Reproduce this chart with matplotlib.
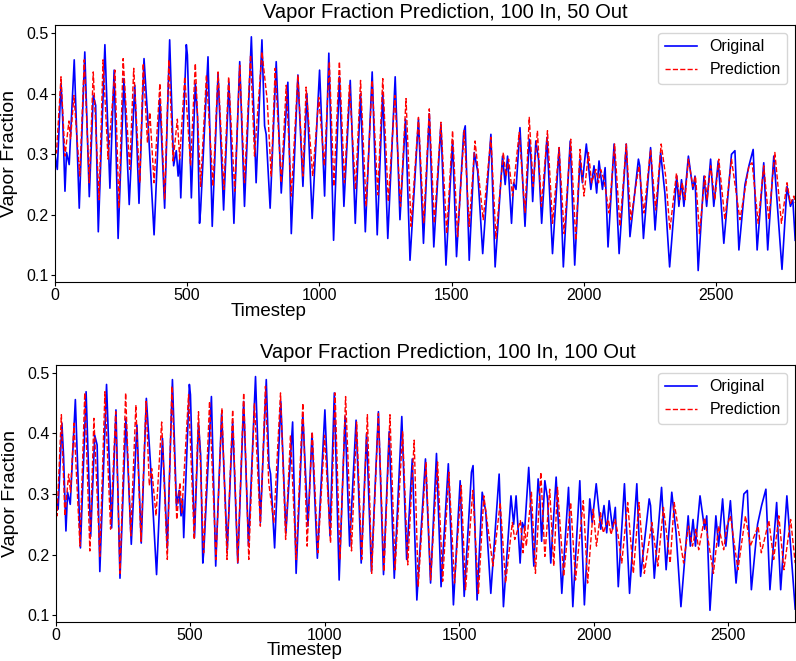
import matplotlib
matplotlib.use("Agg")
import matplotlib.pyplot as plt
import numpy as np

plt.rcParams['font.family'] = ['Liberation Sans', 'DejaVu Sans']

# original vapor fraction (turning points)
orig_t = [0, 9, 23, 29, 38, 44, 54, 73, 92, 113, 130, 145, 154, 164, 189, 208, 224, 239, 261, 281,
          302, 318, 337, 352, 375, 397, 415, 434, 449, 459, 466, 472, 476, 497, 501, 516, 531, 539, 547, 551,
          579, 595, 617, 638, 658, 677, 699, 717, 743, 761, 783, 793, 799, 814, 837, 856, 881, 894, 919, 938,
          953, 973, 1001, 1020, 1036, 1054, 1076, 1093, 1117, 1136, 1156, 1174, 1200, 1219, 1240, 1259, 1287, 1305, 1326, 1343,
          1375, 1394, 1416, 1433, 1460, 1479, 1504, 1519, 1546, 1552, 1567, 1586, 1599, 1618, 1649, 1665, 1693, 1703, 1712, 1727,
          1735, 1744, 1759, 1778, 1794, 1800, 1807, 1819, 1829, 1841, 1861, 1882, 1907, 1923, 1949, 1966, 1986, 1995, 2010, 2027,
          2039, 2049, 2058, 2071, 2081, 2092, 2115, 2134, 2161, 2175, 2207, 2212, 2226, 2253, 2270, 2291, 2307, 2325, 2352, 2360,
          2370, 2379, 2396, 2413, 2421, 2433, 2455, 2465, 2480, 2492, 2509, 2530, 2559, 2572, 2587, 2610, 2625, 2641, 2656, 2681,
          2696, 2719, 2738, 2750, 2769, 2782, 2791, 2800]
orig_v = [0.300, 0.275, 0.417, 0.364, 0.239, 0.303, 0.283, 0.456, 0.211, 0.469, 0.230, 0.397, 0.381, 0.172, 0.481, 0.244, 0.439, 0.161, 0.425, 0.217,
          0.414, 0.219, 0.458, 0.353, 0.167, 0.392, 0.211, 0.489, 0.281, 0.306, 0.264, 0.292, 0.228, 0.481, 0.464, 0.228, 0.417, 0.364, 0.186, 0.208,
          0.461, 0.181, 0.433, 0.208, 0.419, 0.186, 0.453, 0.214, 0.494, 0.253, 0.489, 0.347, 0.333, 0.211, 0.453, 0.236, 0.419, 0.169, 0.431, 0.247,
          0.400, 0.194, 0.439, 0.231, 0.467, 0.158, 0.428, 0.214, 0.422, 0.186, 0.400, 0.172, 0.436, 0.167, 0.403, 0.161, 0.428, 0.192, 0.358, 0.125,
          0.358, 0.153, 0.367, 0.147, 0.350, 0.117, 0.322, 0.131, 0.336, 0.347, 0.125, 0.303, 0.272, 0.136, 0.333, 0.114, 0.297, 0.250, 0.297, 0.186,
          0.253, 0.242, 0.344, 0.181, 0.325, 0.297, 0.222, 0.322, 0.292, 0.186, 0.328, 0.136, 0.311, 0.114, 0.322, 0.117, 0.292, 0.253, 0.317, 0.242,
          0.281, 0.236, 0.289, 0.242, 0.278, 0.147, 0.317, 0.136, 0.317, 0.164, 0.292, 0.281, 0.161, 0.311, 0.175, 0.303, 0.236, 0.114, 0.264, 0.214,
          0.258, 0.214, 0.297, 0.242, 0.264, 0.108, 0.264, 0.214, 0.292, 0.214, 0.289, 0.153, 0.300, 0.306, 0.142, 0.250, 0.281, 0.308, 0.142, 0.286,
          0.142, 0.297, 0.181, 0.110, 0.247, 0.214, 0.225, 0.158]

# prediction, 100 in / 50 out
p50_t = [0, 6, 23, 38, 53, 59, 72, 94, 111, 130, 145, 167, 182, 201, 227, 242, 258, 283, 298, 321,
         334, 350, 359, 375, 397, 415, 431, 447, 463, 472, 491, 513, 531, 551, 573, 598, 617, 639, 657, 680,
         699, 717, 740, 755, 783, 803, 818, 833, 856, 875, 894, 919, 938, 950, 975, 998, 1019, 1038, 1055, 1076,
         1095, 1114, 1137, 1156, 1177, 1200, 1221, 1240, 1261, 1286, 1307, 1328, 1347, 1375, 1395, 1416, 1435, 1460, 1482, 1504,
         1523, 1548, 1567, 1589, 1620, 1649, 1668, 1696, 1706, 1716, 1731, 1756, 1778, 1794, 1809, 1825, 1840, 1863, 1882, 1907,
         1926, 1951, 1970, 1986, 2001, 2018, 2030, 2046, 2056, 2064, 2077, 2096, 2117, 2137, 2161, 2178, 2209, 2228, 2253, 2272,
         2293, 2310, 2326, 2351, 2363, 2373, 2383, 2396, 2413, 2423, 2438, 2458, 2467, 2480, 2496, 2511, 2534, 2559, 2591, 2625,
         2637, 2660, 2681, 2700, 2723, 2748, 2769, 2782, 2795, 2800]
p50_v = [0.300, 0.303, 0.428, 0.297, 0.355, 0.325, 0.397, 0.264, 0.456, 0.253, 0.436, 0.225, 0.456, 0.292, 0.439, 0.211, 0.458, 0.275, 0.442, 0.253,
         0.450, 0.319, 0.369, 0.253, 0.417, 0.225, 0.456, 0.289, 0.358, 0.292, 0.428, 0.281, 0.450, 0.247, 0.431, 0.247, 0.436, 0.242, 0.428, 0.239,
         0.447, 0.253, 0.464, 0.297, 0.469, 0.389, 0.264, 0.442, 0.253, 0.414, 0.231, 0.431, 0.264, 0.411, 0.264, 0.394, 0.281, 0.453, 0.247, 0.453,
         0.253, 0.414, 0.242, 0.422, 0.214, 0.422, 0.233, 0.425, 0.222, 0.397, 0.214, 0.392, 0.181, 0.361, 0.186, 0.375, 0.186, 0.353, 0.169, 0.339,
         0.164, 0.339, 0.181, 0.322, 0.192, 0.328, 0.161, 0.303, 0.264, 0.292, 0.231, 0.336, 0.203, 0.361, 0.247, 0.339, 0.214, 0.339, 0.186, 0.311,
         0.169, 0.325, 0.158, 0.308, 0.231, 0.303, 0.253, 0.275, 0.253, 0.275, 0.258, 0.203, 0.317, 0.181, 0.317, 0.192, 0.281, 0.203, 0.308, 0.208,
         0.317, 0.264, 0.175, 0.269, 0.225, 0.253, 0.225, 0.292, 0.247, 0.264, 0.169, 0.264, 0.225, 0.281, 0.225, 0.292, 0.192, 0.292, 0.192, 0.281,
         0.286, 0.186, 0.281, 0.192, 0.303, 0.186, 0.253, 0.219, 0.231, 0.220]

# prediction, 100 in / 100 out
p100_t = [0, 5, 21, 34, 48, 55, 68, 90, 108, 127, 142, 164, 183, 204, 223, 239, 260, 279, 298, 317,
          336, 348, 357, 373, 394, 415, 432, 450, 462, 469, 494, 515, 531, 550, 572, 596, 618, 637, 658, 677,
          699, 718, 739, 761, 780, 792, 811, 836, 855, 873, 894, 919, 935, 954, 975, 1000, 1022, 1039, 1057, 1078,
          1100, 1119, 1138, 1159, 1175, 1200, 1221, 1243, 1262, 1290, 1309, 1333, 1348, 1377, 1394, 1420, 1439, 1462, 1483, 1508,
          1524, 1551, 1572, 1592, 1626, 1653, 1673, 1698, 1707, 1728, 1738, 1744, 1750, 1769, 1784, 1804, 1819, 1837, 1852, 1866,
          1889, 1915, 1933, 1962, 1978, 1999, 2011, 2026, 2036, 2055, 2065, 2080, 2090, 2105, 2127, 2148, 2169, 2189, 2217, 2239,
          2260, 2285, 2300, 2335, 2353, 2368, 2381, 2391, 2413, 2446, 2465, 2484, 2496, 2509, 2537, 2565, 2583, 2612, 2624, 2652,
          2670, 2689, 2708, 2733, 2750]
p100_v = [0.280, 0.264, 0.431, 0.264, 0.333, 0.303, 0.417, 0.214, 0.467, 0.206, 0.425, 0.197, 0.469, 0.242, 0.436, 0.169, 0.467, 0.231, 0.447, 0.222,
          0.453, 0.314, 0.342, 0.264, 0.419, 0.192, 0.478, 0.258, 0.319, 0.269, 0.464, 0.225, 0.436, 0.203, 0.453, 0.192, 0.442, 0.192, 0.439, 0.186,
          0.467, 0.192, 0.450, 0.247, 0.478, 0.319, 0.253, 0.467, 0.225, 0.397, 0.192, 0.450, 0.214, 0.403, 0.203, 0.397, 0.219, 0.467, 0.192, 0.461,
          0.206, 0.419, 0.192, 0.431, 0.169, 0.433, 0.172, 0.431, 0.175, 0.403, 0.183, 0.389, 0.147, 0.353, 0.158, 0.353, 0.156, 0.336, 0.153, 0.314,
          0.142, 0.306, 0.136, 0.297, 0.181, 0.286, 0.153, 0.253, 0.225, 0.256, 0.203, 0.247, 0.214, 0.303, 0.169, 0.336, 0.197, 0.308, 0.181, 0.311,
          0.164, 0.286, 0.158, 0.289, 0.153, 0.275, 0.214, 0.269, 0.236, 0.258, 0.233, 0.258, 0.236, 0.186, 0.286, 0.169, 0.286, 0.169, 0.253, 0.181,
          0.278, 0.186, 0.286, 0.186, 0.247, 0.214, 0.242, 0.208, 0.261, 0.169, 0.247, 0.208, 0.247, 0.264, 0.175, 0.264, 0.214, 0.247, 0.203, 0.256,
          0.192, 0.264, 0.175, 0.258, 0.186]

titles = ["Vapor Fraction Prediction, 100 In, 50 Out",
          "Vapor Fraction Prediction, 100 In, 100 Out"]

orig_t = np.array(orig_t)
orig_v = np.array(orig_v)

fig = plt.figure(figsize=(7.96, 6.61), dpi=100)
ax1 = fig.add_axes([0.069, 0.573, 0.930, 0.389])
ax2 = fig.add_axes([0.070, 0.059, 0.929, 0.389])

keep = orig_t <= 2750
panels = [(ax1, orig_t, orig_v, p50_t, p50_v, 2800, 0.288, 0.527),
          (ax2, orig_t[keep], orig_v[keep], p100_t, p100_v, 2750, 0.337, 0.530)]

for (ax, ot, ov, pt, pv, xmax, lx, tx), title in zip(panels, titles):
    ax.plot(ot, ov, color='blue', lw=1.2, label='Original')
    ax.plot(pt, pv, color='red', lw=1.0, ls='--', label='Prediction')
    ax.set_xlim(0, xmax)
    ax.set_title(title, fontsize=14.5, pad=5, x=tx)
    ax.set_xlabel('Timestep', fontsize=13.5)
    ax.xaxis.set_label_coords(lx, -0.079)
    ax.set_ylabel('Vapor Fraction', fontsize=14)
    ax.yaxis.set_label_coords(-0.05, 0.5)
    ax.tick_params(labelsize=11.5, length=3, pad=1.5)
    ax.set_xticks([0, 500, 1000, 1500, 2000, 2500])
    ax.set_yticks([0.1, 0.2, 0.3, 0.4, 0.5])
    ax.legend(loc='upper right', fontsize=11.5)

fig.savefig('out.png', dpi=100)
